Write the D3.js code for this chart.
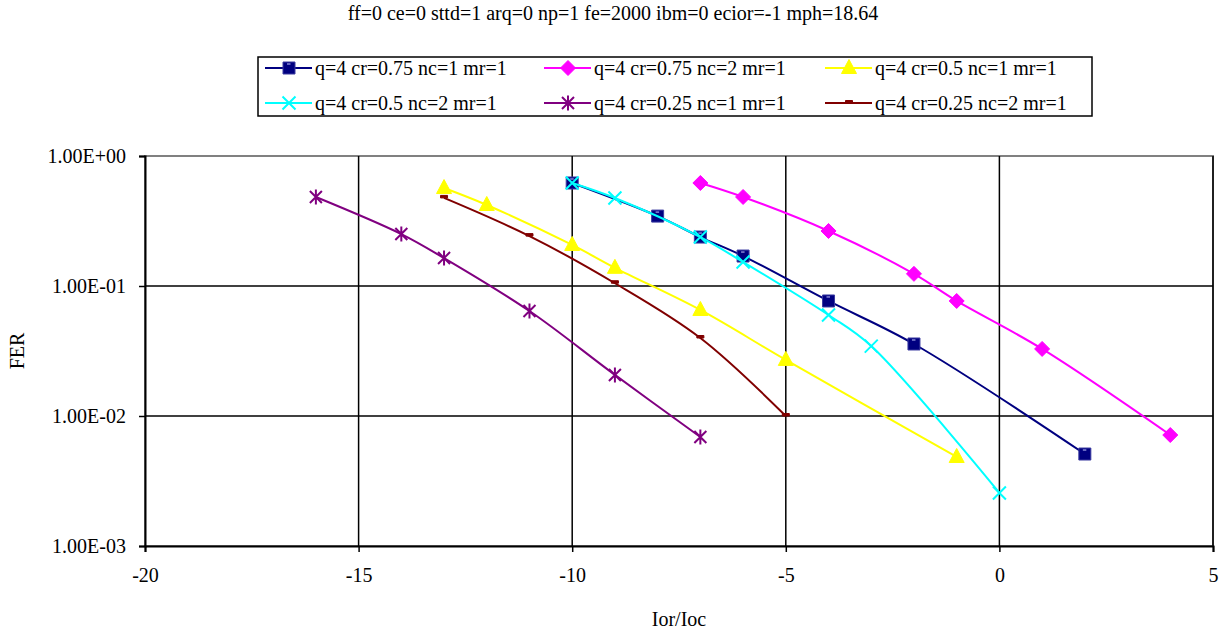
<!DOCTYPE html>
<html>
<head>
<meta charset="utf-8">
<script src="https://cdn.jsdelivr.net/npm/d3@7"></script>
<style>
  body { margin: 0; background: #fff; }
  text { font-family: "Liberation Serif", "Times New Roman", serif; fill: #000; }
</style>
</head>
<body>
<svg width="1226" height="634"></svg>
<script>
var title = "ff=0 ce=0 sttd=1 arq=0 np=1 fe=2000 ibm=0 ecior=-1 mph=18.64";
var xTicks = [-20, -15, -10, -5, 0, 5];
var yTicks = [1, 0.1, 0.01, 0.001];
var yTickLabels = ["1.00E+00", "1.00E-01", "1.00E-02", "1.00E-03"];

var names = [
  "q=4 cr=0.75 nc=1 mr=1", "q=4 cr=0.75 nc=2 mr=1", "q=4 cr=0.5 nc=1 mr=1",
  "q=4 cr=0.5 nc=2 mr=1", "q=4 cr=0.25 nc=1 mr=1", "q=4 cr=0.25 nc=2 mr=1"
];
var colors = ["#000080", "#ff00ff", "#ffff00", "#00ffff", "#800080", "#800000"];
var markers = ["square", "diamond", "triangle", "x", "star", "dash"];

var s1x = [-10, -8, -7, -6, -4, -2, 2];
var s1y = [0.62, 0.345, 0.238, 0.170, 0.0767, 0.0358, 0.0051];
var s2x = [-7, -6, -4, -2, -1, 1, 4];
var s2y = [0.62, 0.484, 0.265, 0.124, 0.0767, 0.0328, 0.00714];
var s3x = [-13, -12, -10, -9, -7, -5, -1];
var s3y = [0.567, 0.42, 0.207, 0.138, 0.0654, 0.027, 0.00484];
var s4x = [-10, -9, -7, -6, -4, -3, 0];
var s4y = [0.62, 0.475, 0.238, 0.153, 0.0598, 0.0345, 0.00256];
var s5x = [-16, -14, -13, -11, -9, -7];
var s5y = [0.484, 0.251, 0.164, 0.0642, 0.0207, 0.00689];
var s6x = [-13, -11, -9, -7, -5];
var s6y = [0.476, 0.242, 0.105, 0.0398, 0.01];

var xs = [s1x, s2x, s3x, s4x, s5x, s6x];
var ys = [s1y, s2y, s3y, s4y, s5y, s6y];

var series = names.map(function(n, i) {
  return {name: n, color: colors[i], marker: markers[i],
          points: xs[i].map(function(x, j) { return {x: x, y: ys[i][j]}; })};
});

var svg = d3.select("svg");
var plotLeft = 145, plotRight = 1213, plotTop = 156, plotBottom = 546;
var fs = 20;

var x = d3.scaleLinear().domain([-20, 5]).range([plotLeft, plotRight]);
var y = d3.scaleLog().domain([0.001, 1]).range([plotBottom, plotTop]);

function markerPath(type) {
  switch (type) {
    case "square": return "M-6,-6H6V6H-6Z";
    case "diamond": return "M0,-7.5L7.5,0L0,7.5L-7.5,0Z";
    case "triangle": return "M0,-8.5L7.5,5.5L-7.5,5.5Z";
    case "x": return "M-6.5,-6.5L6.5,6.5M-6.5,6.5L6.5,-6.5";
    case "star": return "M-6,-6L6,6M-6,6L6,-6M0,-7.5V7.5";
    case "dash": return "M-3.5,-2.5H3.5V0H-3.5Z";
  }
}

function drawMarker(g, type, color) {
  var p = g.append("path").attr("d", markerPath(type));
  if (type == "x" || type == "star") {
    p.attr("fill", "none").attr("stroke", color).attr("stroke-width", 2);
  } else if (type == "square") {
    p.attr("fill", color).attr("stroke", "#3a3aa0").attr("stroke-width", 1);
    g.append("path").attr("d", "M-2,-4H1.5").attr("stroke", "#c8c8ff").attr("stroke-width", 1);
  } else {
    p.attr("fill", color).attr("stroke", color).attr("stroke-width", 1);
  }
}

// plot frame
svg.append("rect")
  .attr("x", plotLeft).attr("y", plotTop)
  .attr("width", plotRight - plotLeft).attr("height", plotBottom - plotTop)
  .attr("fill", "none").attr("stroke", "#808080").attr("stroke-width", 2);

// gridlines
svg.append("g").selectAll("line")
  .data(xTicks.slice(1))
  .enter().append("line")
  .attr("x1", d => x(d)).attr("x2", d => x(d))
  .attr("y1", plotTop).attr("y2", plotBottom)
  .attr("stroke", "#000").attr("stroke-width", 1.5);

svg.append("g").selectAll("line")
  .data(yTicks.slice(1, 3))
  .enter().append("line")
  .attr("x1", plotLeft).attr("x2", plotRight)
  .attr("y1", d => y(d)).attr("y2", d => y(d))
  .attr("stroke", "#000").attr("stroke-width", 1.5);

// axes
var xAxis = svg.append("g")
  .attr("transform", "translate(0," + plotBottom + ")")
  .call(d3.axisBottom(x).tickValues(xTicks).tickSize(6).tickFormat(d => String(d)));
var yAxis = svg.append("g")
  .attr("transform", "translate(" + plotLeft + ",0)")
  .call(d3.axisLeft(y).tickValues(yTicks).tickSize(6)
    .tickFormat((d, i) => yTickLabels[i]));

[xAxis, yAxis].forEach(function(a) {
  a.select(".domain").attr("stroke", "#000").attr("stroke-width", 2);
  a.selectAll(".tick line").attr("stroke", "#000").attr("stroke-width", 1.5);
  a.selectAll("text").attr("font-size", fs).attr("font-family", "Liberation Serif").attr("fill", "#000");
});
xAxis.selectAll("text").attr("y", 30).attr("dy", "0.32em");
yAxis.selectAll("text").attr("x", -19);

// lines
var line = d3.line()
  .x(d => x(d.x)).y(d => y(d.y))
  .curve(d3.curveCatmullRom.alpha(0.5));

var sg = svg.append("g").selectAll("g")
  .data(series)
  .enter().append("g");

sg.append("path")
  .attr("d", d => line(d.points))
  .attr("fill", "none")
  .attr("stroke", d => d.color)
  .attr("stroke-width", 2);

sg.each(function(s) {
  d3.select(this).selectAll("g.m")
    .data(s.points)
    .enter().append("g")
    .attr("class", "m")
    .attr("transform", d => "translate(" + x(d.x) + "," + y(d.y) + ")")
    .each(function() { drawMarker(d3.select(this), s.marker, s.color); });
});

// title and axis titles
svg.append("text").attr("x", 613).attr("y", 20)
  .attr("text-anchor", "middle").attr("font-size", fs).text(title);

svg.append("text").attr("x", (plotLeft + plotRight) / 2).attr("y", 626)
  .attr("text-anchor", "middle").attr("font-size", fs).text("Ior/Ioc");

svg.append("text")
  .attr("transform", "translate(24," + ((plotTop + plotBottom) / 2) + ") rotate(-90)")
  .attr("text-anchor", "middle").attr("font-size", fs).text("FER");

// legend
var legend = svg.append("g");
legend.append("rect")
  .attr("x", 258).attr("y", 57).attr("width", 834).attr("height", 59)
  .attr("fill", "#fff").attr("stroke", "#000").attr("stroke-width", 1.5);

var colX = [265, 544, 825];
var rowY = [68, 103];

var li = legend.selectAll("g")
  .data(series)
  .enter().append("g")
  .attr("transform", (d, i) => "translate(" + colX[i % 3] + "," + rowY[Math.floor(i / 3)] + ")");

li.append("line")
  .attr("x1", 0).attr("x2", 47)
  .attr("stroke", d => d.color).attr("stroke-width", 2);
li.each(function(s) {
  var m = d3.select(this).append("g").attr("transform", "translate(24,0)");
  drawMarker(m, s.marker, s.color);
});
li.append("text")
  .attr("x", 50).attr("y", 7)
  .attr("font-size", fs)
  .text(d => d.name);
</script>
</body>
</html>
